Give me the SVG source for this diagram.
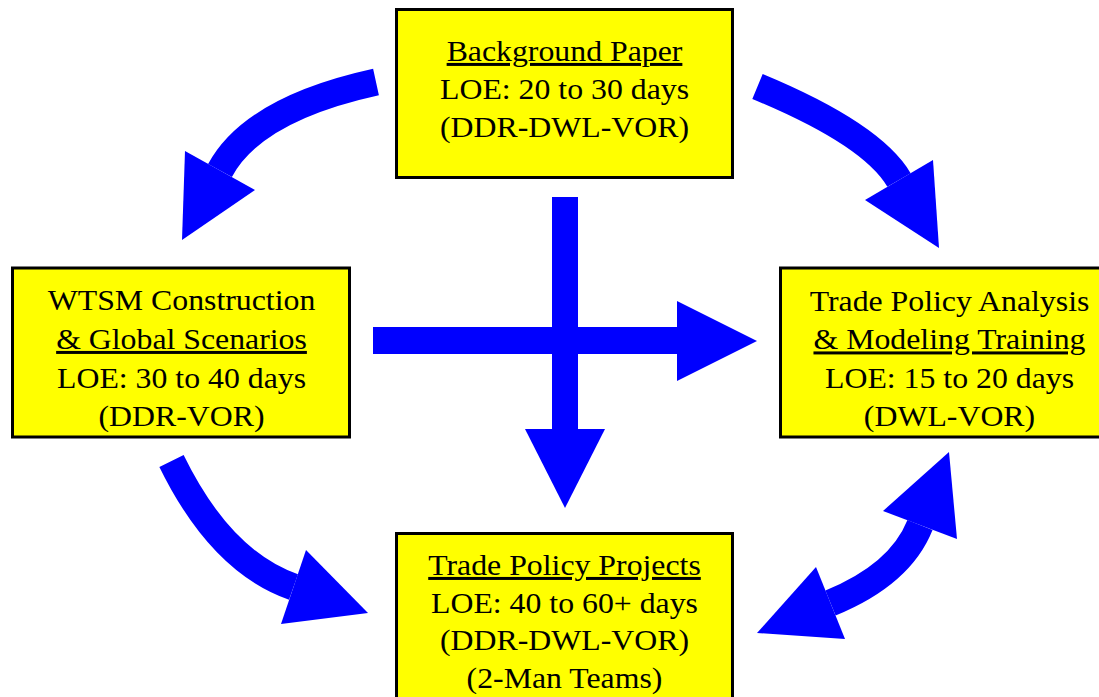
<svg xmlns="http://www.w3.org/2000/svg" width="1099" height="697" viewBox="0 0 1099 697">
<style>
.box{fill:#FFFF00;stroke:#000;stroke-width:3}
.t{font-family:"Liberation Serif","Times New Roman",serif;font-size:30px;fill:#000;text-anchor:middle}
.u{text-decoration:underline}
.shaft{fill:none;stroke:#0000FF;stroke-width:27;stroke-linecap:butt}
.head{fill:#0000FF}
</style>
<rect width="1099" height="697" fill="#fff"/>
<g id="connectors">
<path class="shaft" d="M376,82 Q253,109 220,170.5"/>
<polygon class="head" points="185,151 182,240 255,190"/>
<path class="shaft" d="M757.5,86.5 Q872,134 899,180"/>
<polygon class="head" points="933,160 939,248 865,200"/>
<path class="shaft" d="M171.5,461 Q220.6,561.5 293.5,587"/>
<polygon class="head" points="306,550 368,613 281,624"/>
<path class="shaft" d="M920,525 Q900.3,574.5 830.5,603"/>
<polygon class="head" points="883,511 949,452 957,539"/>
<polygon class="head" points="816,567 757,633 845,639"/>
<rect class="head" x="373" y="327" width="305" height="27"/>
<polygon class="head" points="677,301 757,341 677,381"/>
<rect class="head" x="552" y="197" width="26" height="233"/>
<polygon class="head" points="525,429 605,429 565,508"/>
</g>
<g id="node-background">
<rect class="box" x="396.5" y="9.5" width="336" height="168"/>
<g transform="translate(564.5,0) scale(1.06,1)">
<text class="t u" x="0" y="61">Background Paper</text>
<text class="t" x="0" y="99">LOE: 20 to 30 days</text>
<text class="t" x="0" y="137">(DDR-DWL-VOR)</text>
</g>
</g>
<g id="node-wtsm">
<rect class="box" x="12.5" y="268" width="337" height="169"/>
<g transform="translate(181.5,0) scale(1.06,1)">
<text class="t" x="0" y="310.5">WTSM Construction</text>
<text class="t u" x="0" y="349">&amp; Global Scenarios</text>
<text class="t" x="0" y="388">LOE: 30 to 40 days</text>
<text class="t" x="0" y="426.5">(DDR-VOR)</text>
</g>
</g>
<g id="node-training">
<rect class="box" x="780.5" y="268" width="338" height="169"/>
<g transform="translate(949.5,0) scale(1.06,1)">
<text class="t" x="0" y="311">Trade Policy Analysis</text>
<text class="t u" x="0" y="349.5">&amp; Modeling Training</text>
<text class="t" x="0" y="388">LOE: 15 to 20 days</text>
<text class="t" x="0" y="426.5">(DWL-VOR)</text>
</g>
</g>
<g id="node-projects">
<rect class="box" x="396.5" y="533.5" width="336" height="170"/>
<g transform="translate(564.5,0) scale(1.06,1)">
<text class="t u" x="0" y="575">Trade Policy Projects</text>
<text class="t" x="0" y="613">LOE: 40 to 60+ days</text>
<text class="t" x="0" y="650.5">(DDR-DWL-VOR)</text>
<text class="t" x="0" y="688">(2-Man Teams)</text>
</g>
</g>
</svg>
